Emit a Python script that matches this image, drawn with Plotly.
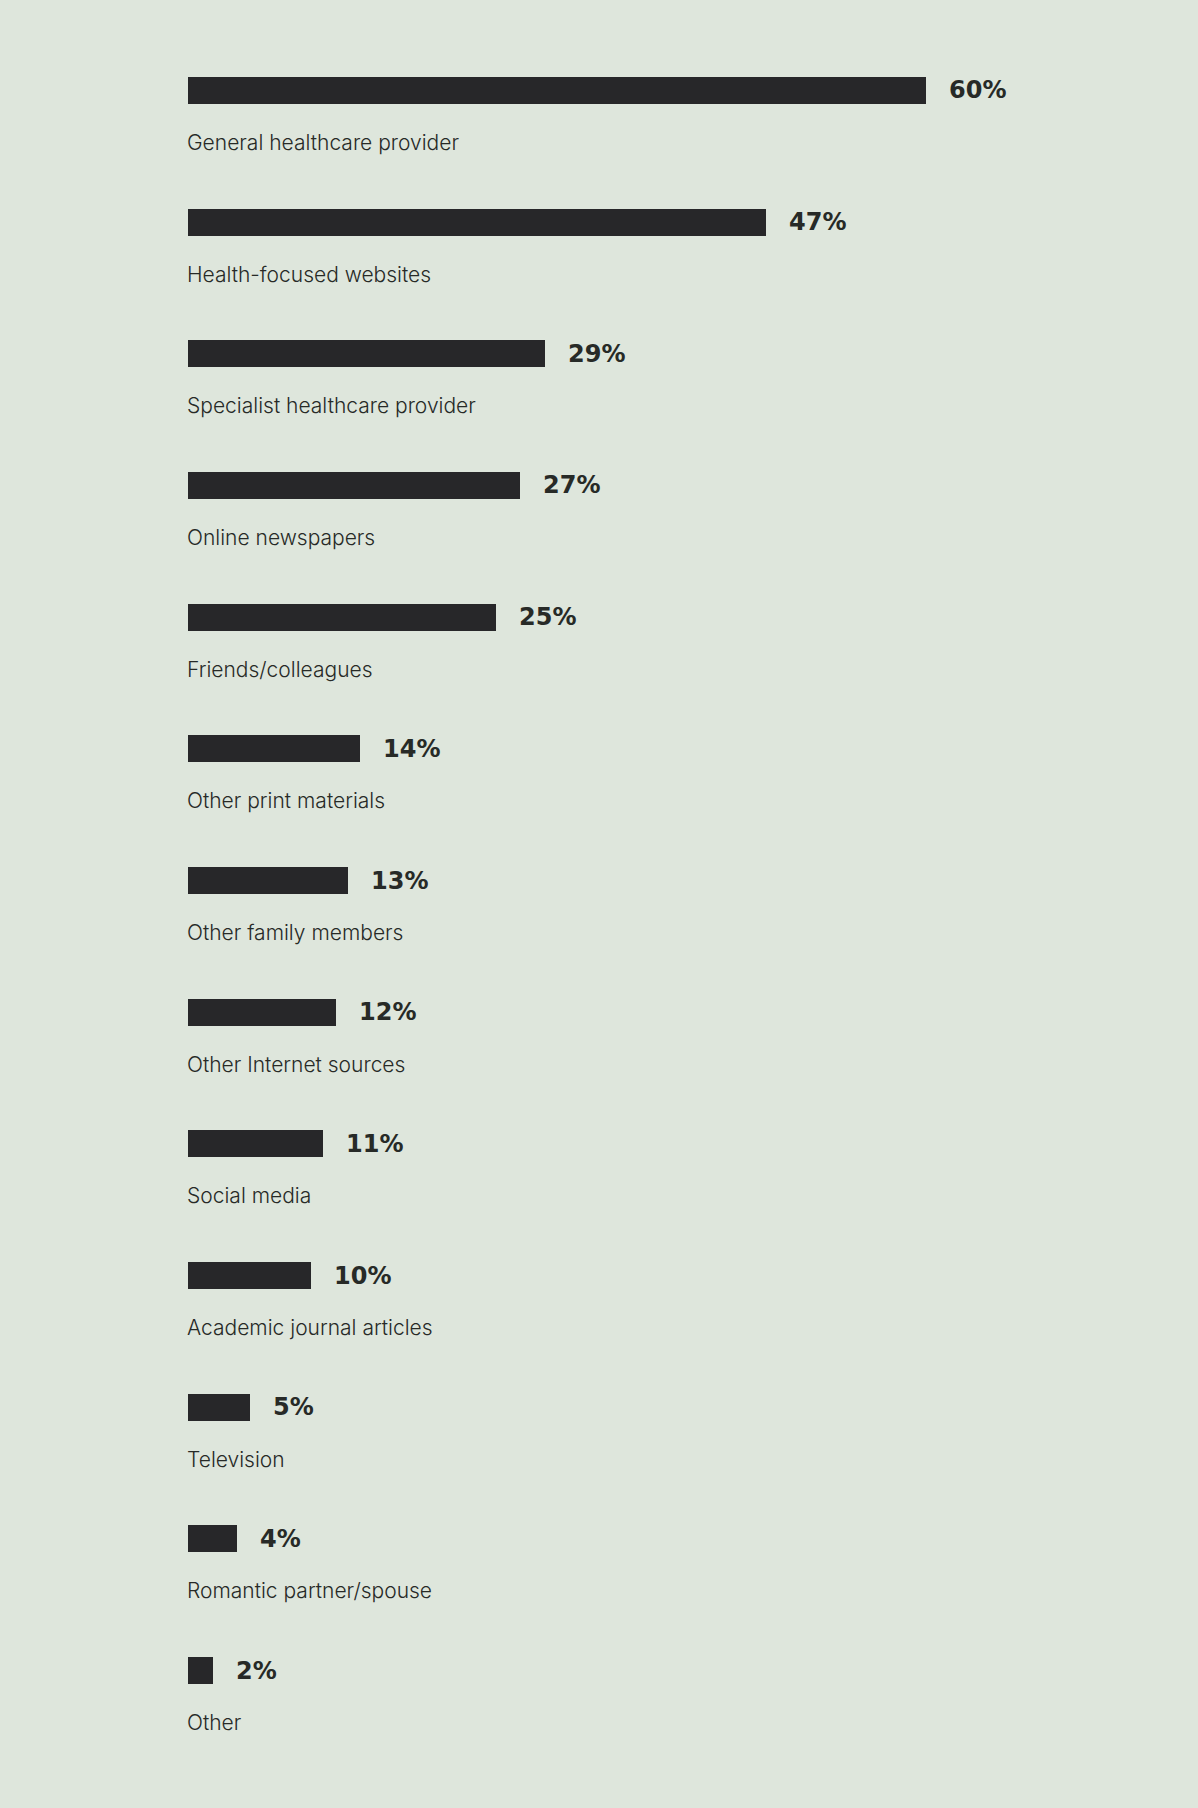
import plotly.graph_objects as go

# survey answers: where people look for health information
sources = [
    "General healthcare provider",
    "Health-focused websites",
    "Specialist healthcare provider",
    "Online newspapers",
    "Friends/colleagues",
    "Other print materials",
    "Other family members",
    "Other Internet sources",
    "Social media",
    "Academic journal articles",
    "Television",
    "Romantic partner/spouse",
    "Other",
]
shares = [60, 47, 29, 27, 25, 14, 13, 12, 11, 10, 5, 4, 2]

BG = "#dee6dc"
BAR = "#272729"
INK = "#272a27"

fig = go.Figure(
    go.Bar(
        x=shares,
        y=sources,
        orientation="h",
        width=0.205,
        marker=dict(color=BAR, line=dict(width=0)),
        hoverinfo="skip",
    )
)

# percentage to the right of each bar
for src, val in zip(sources, shares):
    fig.add_annotation(
        x=val, y=src, xref="x", yref="y",
        text=f"{val}%", showarrow=False,
        xanchor="left", yanchor="middle", xshift=21, yshift=0,
        font=dict(family="DejaVu Sans", size=24, color=INK, weight="bold"),
    )
    # category name sits under the bar
    fig.add_annotation(
        x=0, y=src, xref="x", yref="y",
        text=src, showarrow=False,
        xanchor="left", yanchor="middle", xshift=-3, yshift=-52,
        font=dict(family="Inter", size=21, color=INK, weight=300),
    )

fig.update_layout(
    width=1198,
    height=1808,
    paper_bgcolor=BG,
    plot_bgcolor=BG,
    margin=dict(l=188, r=0, t=0, b=0),
    showlegend=False,
    bargap=0,
    xaxis=dict(range=[0, 1010 / 12.3], visible=False, fixedrange=True),
    yaxis=dict(
        categoryorder="array",
        categoryarray=sources,
        range=[13.044, -0.687],
        visible=False,
        fixedrange=True,
    ),
)

# drop the default page margin so the figure fills the window
fig.write_html(
    "out.html",
    config=dict(displayModeBar=False),
    post_script="document.body.style.margin='0';document.body.style.background='%s';" % BG,
)
